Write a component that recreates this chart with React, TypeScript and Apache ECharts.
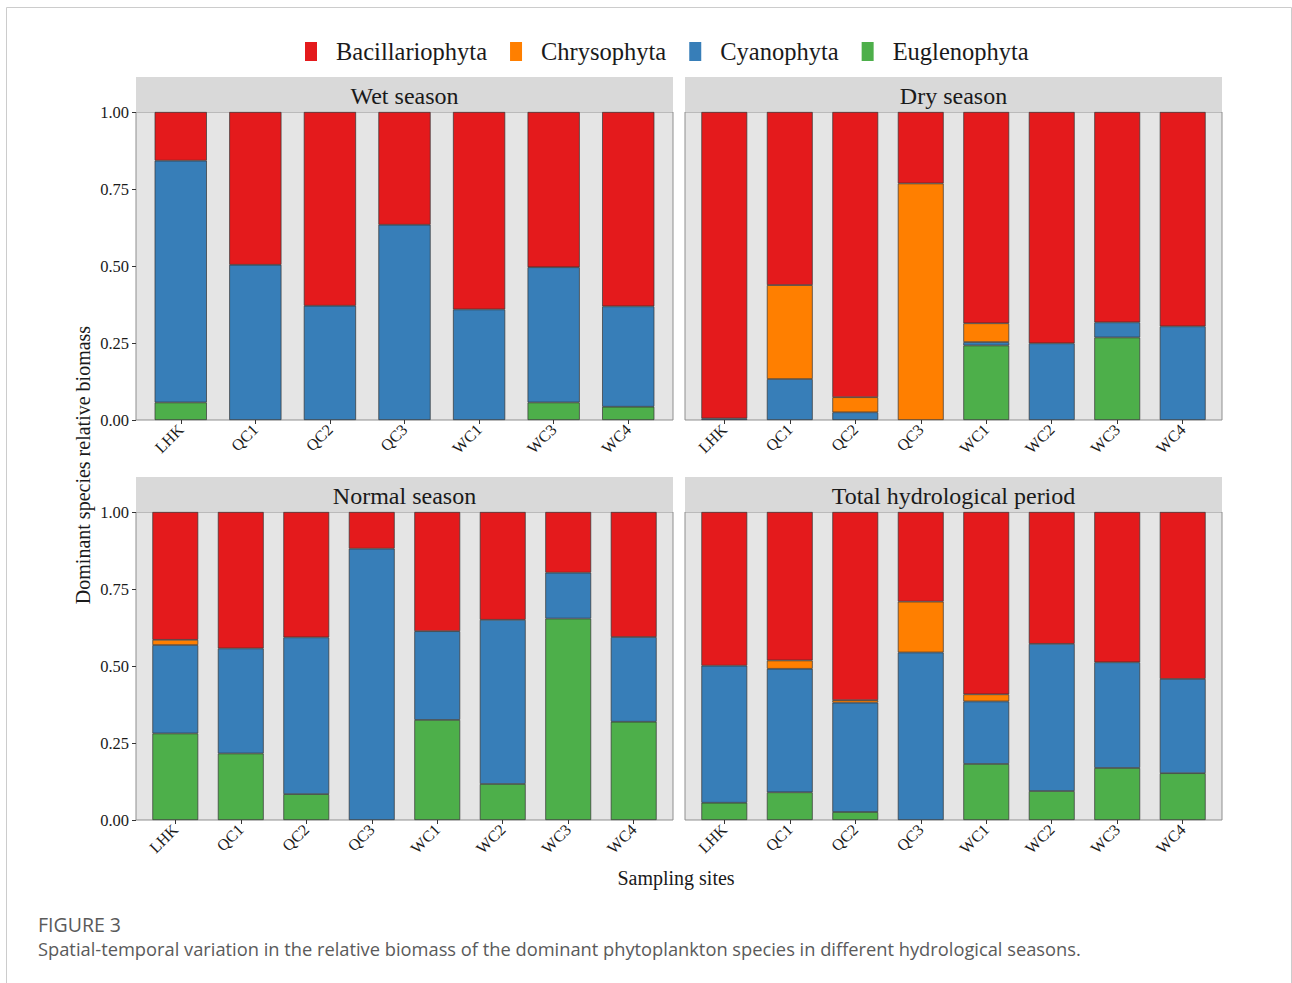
import React, { useEffect, useRef } from "react";
import * as echarts from "echarts";

const speciesLegend = ["Bacillariophyta", "Chrysophyta", "Cyanophyta", "Euglenophyta"];
const speciesStack = ["Euglenophyta", "Cyanophyta", "Chrysophyta", "Bacillariophyta"];
const speciesColors: Record<string, string> = {
  Bacillariophyta: "#E41A1C",
  Chrysophyta: "#FF7F00",
  Cyanophyta: "#377EB8",
  Euglenophyta: "#4DAF4A",
};

const panelTitles = ["Wet season", "Dry season", "Normal season", "Total hydrological period"];
const sitesWet = ["LHK", "QC1", "QC2", "QC3", "WC1", "WC3", "WC4"];
const sitesAll = ["LHK", "QC1", "QC2", "QC3", "WC1", "WC2", "WC3", "WC4"];
const yTicks = [0, 0.25, 0.5, 0.75, 1];

// Wet season
const wetEuglenophyta = [0.057, 0, 0, 0, 0, 0.057, 0.043];
const wetCyanophyta = [0.785, 0.504, 0.371, 0.634, 0.359, 0.439, 0.326];
const wetChrysophyta = [0, 0, 0, 0, 0, 0, 0];
const wetBacillariophyta = [0.158, 0.496, 0.629, 0.366, 0.641, 0.504, 0.631];

// Dry season
const dryEuglenophyta = [0, 0, 0, 0, 0.242, 0, 0.268, 0];
const dryCyanophyta = [0.005, 0.133, 0.025, 0, 0.011, 0.249, 0.049, 0.304];
const dryChrysophyta = [0, 0.305, 0.049, 0.768, 0.061, 0, 0, 0];
const dryBacillariophyta = [0.995, 0.562, 0.926, 0.232, 0.686, 0.751, 0.683, 0.696];

// Normal season
const normalEuglenophyta = [0.281, 0.216, 0.084, 0, 0.325, 0.117, 0.654, 0.319];
const normalCyanophyta = [0.287, 0.341, 0.509, 0.881, 0.288, 0.533, 0.149, 0.275];
const normalChrysophyta = [0.017, 0, 0, 0, 0, 0, 0, 0];
const normalBacillariophyta = [0.415, 0.443, 0.407, 0.119, 0.387, 0.35, 0.197, 0.406];

// Total hydrological period
const totalEuglenophyta = [0.056, 0.09, 0.026, 0, 0.182, 0.094, 0.169, 0.152];
const totalCyanophyta = [0.445, 0.401, 0.355, 0.544, 0.203, 0.478, 0.343, 0.306];
const totalChrysophyta = [0, 0.027, 0.008, 0.165, 0.023, 0, 0, 0];
const totalBacillariophyta = [0.499, 0.482, 0.611, 0.291, 0.592, 0.428, 0.488, 0.542];

const SERIF = "'Liberation Serif', 'Times New Roman', serif";
const SANS = "'Open Sans', 'Noto Sans', sans-serif";

export default function App() {
  const ref = useRef<HTMLDivElement>(null);

  useEffect(() => {
    if (!ref.current) return;
    const chart = echarts.init(ref.current, undefined, { renderer: "svg" });

    const panels = [
      { sites: sitesWet, data: { Euglenophyta: wetEuglenophyta, Cyanophyta: wetCyanophyta, Chrysophyta: wetChrysophyta, Bacillariophyta: wetBacillariophyta } },
      { sites: sitesAll, data: { Euglenophyta: dryEuglenophyta, Cyanophyta: dryCyanophyta, Chrysophyta: dryChrysophyta, Bacillariophyta: dryBacillariophyta } },
      { sites: sitesAll, data: { Euglenophyta: normalEuglenophyta, Cyanophyta: normalCyanophyta, Chrysophyta: normalChrysophyta, Bacillariophyta: normalBacillariophyta } },
      { sites: sitesAll, data: { Euglenophyta: totalEuglenophyta, Cyanophyta: totalCyanophyta, Chrysophyta: totalChrysophyta, Bacillariophyta: totalBacillariophyta } },
    ];

    const PW = 537;
    const PH = 308;
    const lefts = [136, 685, 136, 685];
    const tops = [112, 112, 512, 512];
    const STRIP = 35;

    // ggplot-like discrete expansion: 0.6 unit each side, bars 0.7 wide
    const units = panels.map((p) => PW / (p.sites.length + 0.2));

    const grids = panels.map((p, i) => ({
      left: lefts[i] + 0.1 * units[i],
      top: tops[i],
      width: units[i] * p.sites.length,
      height: PH,
      show: false,
      containLabel: false,
    }));

    const xAxes = panels.map((p, i) => ({
      type: "category",
      gridIndex: i,
      data: p.sites,
      axisLine: { show: false },
      axisTick: { show: true, length: 4, alignWithLabel: true, lineStyle: { color: "#333" } },
      axisLabel: {
        rotate: 45,
        fontFamily: SERIF,
        fontSize: 16,
        color: "#1a1a1a",
        margin: 7,
      },
      splitLine: { show: false },
    }));

    const yAxes = panels.map((_, i) => ({
      type: "value",
      gridIndex: i,
      min: 0,
      max: 1,
      interval: 0.25,
      offset: 0.1 * units[i],
      axisLine: { show: false },
      axisTick: { show: i % 2 === 0, length: 4, lineStyle: { color: "#333" } },
      axisLabel: {
        show: i % 2 === 0,
        fontFamily: SERIF,
        fontSize: 16.5,
        color: "#1a1a1a",
        margin: 7,
        formatter: (v: number) => (yTicks.includes(v) ? v.toFixed(2) : ""),
      },
      splitLine: { show: false },
    }));

    const series: any[] = [];
    panels.forEach((p, i) => {
      speciesStack.forEach((sp) => {
        const vals: number[] = (p.data as any)[sp];
        series.push({
          name: sp,
          type: "bar",
          xAxisIndex: i,
          yAxisIndex: i,
          stack: "panel" + i,
          barCategoryGap: "30%",
          data: vals.map((v) => (v > 0 ? v : "-")),
          itemStyle: {
            color: speciesColors[sp],
            borderColor: "#333333",
            borderWidth: 0.7,
          },
          emphasis: { disabled: true },
        });
      });
    });

    const graphics: any[] = [
      {
        type: "rect",
        shape: { x: 6.5, y: 7.5, width: 1285, height: 1100 },
        style: { fill: "none", stroke: "#cccccc", lineWidth: 1 },
        silent: true,
        z: -10,
      },
    ];
    panels.forEach((_, i) => {
      graphics.push({
        type: "rect",
        shape: { x: lefts[i], y: tops[i], width: PW, height: PH },
        style: { fill: "#E5E5E5", stroke: "#8f8f8f", lineWidth: 1 },
        silent: true,
        z: -5,
      });
      graphics.push({
        type: "rect",
        shape: { x: lefts[i], y: tops[i] - STRIP, width: PW, height: STRIP },
        style: { fill: "#D9D9D9" },
        silent: true,
      });
      graphics.push({
        type: "text",
        x: lefts[i] + PW / 2,
        y: tops[i] - STRIP / 2 + 1,
        style: {
          text: panelTitles[i],
          fontFamily: SERIF,
          fontSize: 24,
          fill: "#1a1a1a",
          textAlign: "center",
          textVerticalAlign: "middle",
        },
        silent: true,
      });
    });
    graphics.push({
      type: "text",
      x: 83,
      y: 465,
      rotation: Math.PI / 2,
      style: {
        text: "Dominant species relative biomass",
        fontFamily: SERIF,
        fontSize: 20,
        fill: "#1a1a1a",
        textAlign: "center",
        textVerticalAlign: "middle",
      },
      silent: true,
    });
    graphics.push({
      type: "text",
      x: 676,
      y: 878,
      style: {
        text: "Sampling sites",
        fontFamily: SERIF,
        fontSize: 20,
        fill: "#1a1a1a",
        textAlign: "center",
        textVerticalAlign: "middle",
      },
      silent: true,
    });
    graphics.push({
      type: "text",
      x: 38,
      y: 924,
      style: {
        text: "FIGURE 3",
        fontFamily: SANS,
        fontSize: 19.5,
        fill: "#5a5a5a",
        textAlign: "left",
        textVerticalAlign: "middle",
      },
      silent: true,
    });
    graphics.push({
      type: "text",
      x: 38,
      y: 948,
      style: {
        text: "Spatial-temporal variation in the relative biomass of the dominant phytoplankton species in different hydrological seasons.",
        fontFamily: SANS,
        fontSize: 18.3,
        fill: "#5a5a5a",
        textAlign: "left",
        textVerticalAlign: "middle",
      },
      silent: true,
    });

    chart.setOption({
      animation: false,
      backgroundColor: "#ffffff",
      legend: {
        data: speciesLegend,
        left: 300,
        top: 34,
        icon: "rect",
        itemWidth: 12,
        itemHeight: 19,
        itemGap: 23,
        selectedMode: false,
        itemStyle: { borderWidth: 0 },
        textStyle: {
          fontFamily: SERIF,
          fontSize: 24.5,
          color: "#1a1a1a",
          padding: [0, 0, 0, 14],
        },
      },
      grid: grids,
      xAxis: xAxes,
      yAxis: yAxes,
      series,
      graphic: graphics,
    });

    return () => chart.dispose();
  }, []);

  return (
    <div
      ref={ref}
      style={{ position: "absolute", left: 0, top: 0, width: 1292, height: 983 }}
    />
  );
}
